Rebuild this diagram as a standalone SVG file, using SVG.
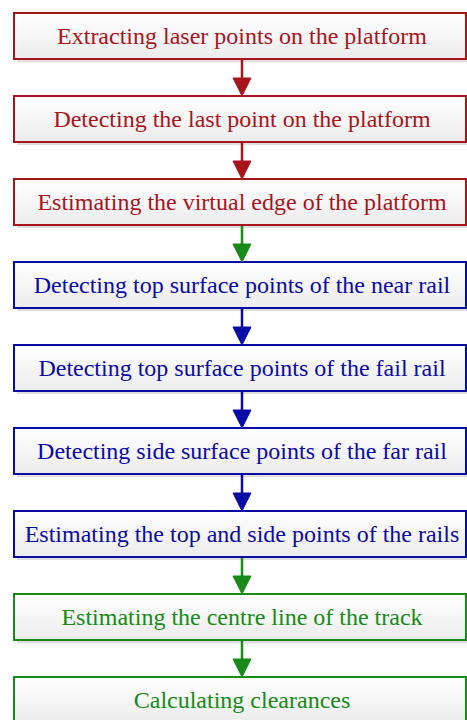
<svg xmlns="http://www.w3.org/2000/svg" width="467" height="720" viewBox="0 0 467 720">
<style>
.box{stroke-width:2;fill:url(#g)}
.sh{fill:#dedede}
.t{font-family:"Liberation Serif","Times New Roman",serif;font-size:24px;text-anchor:middle}
.r{stroke:#a8141c;fill:#a8141c}
.b{stroke:#0a0aa5;fill:#0a0aa5}
.gr{stroke:#178a17;fill:#178a17}
.ln{stroke-width:2.5;fill:none}
</style>
<defs>
<linearGradient id="g" x1="0" y1="0" x2="0" y2="1">
<stop offset="0" stop-color="#ffffff"/>
<stop offset="1" stop-color="#ececec"/>
</linearGradient>
</defs>
<g id="n1"><rect class="sh" x="17" y="16" width="452" height="46"/><rect class="box" x="14" y="13" width="452" height="46" stroke="#a8141c"/><text class="t" x="242" y="44" fill="#a8141c">Extracting laser points on the platform</text></g>
<g id="n2"><rect class="sh" x="17" y="99" width="452" height="46"/><rect class="box" x="14" y="96" width="452" height="46" stroke="#a8141c"/><text class="t" x="242" y="127" fill="#a8141c">Detecting the last point on the platform</text></g>
<g id="n3"><rect class="sh" x="17" y="182" width="452" height="46"/><rect class="box" x="14" y="179" width="452" height="46" stroke="#a8141c"/><text class="t" x="242" y="210" fill="#a8141c">Estimating the virtual edge of the platform</text></g>
<g id="n4"><rect class="sh" x="17" y="265" width="452" height="46"/><rect class="box" x="14" y="262" width="452" height="46" stroke="#0a0aa5"/><text class="t" x="242" y="293" fill="#0a0aa5">Detecting top surface points of the near rail</text></g>
<g id="n5"><rect class="sh" x="17" y="348" width="452" height="46"/><rect class="box" x="14" y="345" width="452" height="46" stroke="#0a0aa5"/><text class="t" x="242" y="376" fill="#0a0aa5">Detecting top surface points of the fail rail</text></g>
<g id="n6"><rect class="sh" x="17" y="431" width="452" height="46"/><rect class="box" x="14" y="428" width="452" height="46" stroke="#0a0aa5"/><text class="t" x="242" y="459" fill="#0a0aa5">Detecting side surface points of the far rail</text></g>
<g id="n7"><rect class="sh" x="17" y="514" width="452" height="46"/><rect class="box" x="14" y="511" width="452" height="46" stroke="#0a0aa5"/><text class="t" x="242" y="542" fill="#0a0aa5">Estimating the top and side points of the rails</text></g>
<g id="n8"><rect class="sh" x="17" y="597" width="452" height="46"/><rect class="box" x="14" y="594" width="452" height="46" stroke="#178a17"/><text class="t" x="242" y="625" fill="#178a17">Estimating the centre line of the track</text></g>
<g id="n9"><rect class="sh" x="17" y="680" width="452" height="46"/><rect class="box" x="14" y="677" width="452" height="46" stroke="#178a17"/><text class="t" x="242" y="708" fill="#178a17">Calculating clearances</text></g>
<g id="connectors">
<g class="r"><line class="ln" x1="242" y1="60" x2="242" y2="79"/><polygon points="233,78 251,78 242,96"/></g>
<g class="r"><line class="ln" x1="242" y1="143" x2="242" y2="162"/><polygon points="233,161 251,161 242,179"/></g>
<g class="gr"><line class="ln" x1="242" y1="226" x2="242" y2="245"/><polygon points="233,244 251,244 242,262"/></g>
<g class="b"><line class="ln" x1="242" y1="309" x2="242" y2="328"/><polygon points="233,327 251,327 242,345"/></g>
<g class="b"><line class="ln" x1="242" y1="392" x2="242" y2="411"/><polygon points="233,410 251,410 242,428"/></g>
<g class="b"><line class="ln" x1="242" y1="475" x2="242" y2="494"/><polygon points="233,493 251,493 242,511"/></g>
<g class="gr"><line class="ln" x1="242" y1="558" x2="242" y2="577"/><polygon points="233,576 251,576 242,594"/></g>
<g class="gr"><line class="ln" x1="242" y1="641" x2="242" y2="660"/><polygon points="233,659 251,659 242,677"/></g>
</g>
</svg>
